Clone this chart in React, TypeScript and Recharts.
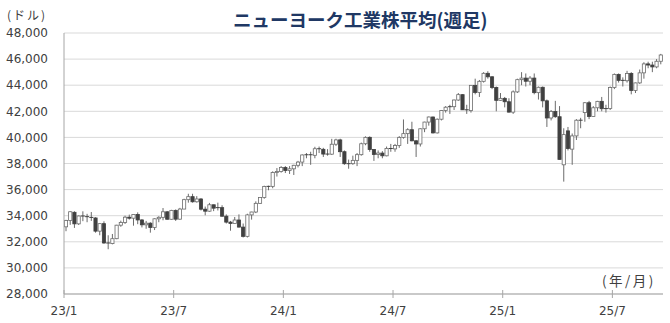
import React from "react";
import { ComposedChart, Bar, XAxis, YAxis, CartesianGrid } from "recharts";

// weekly candles, Jan 2023 - Sep 2025
const opens = [
  33148, 33631, 34260, 33375, 33978, 33926, 33869, 33827, 32817, 33391,
  31910, 31862, 32238, 33274, 33485, 33886, 33809, 34098, 33674, 33301,
  33427, 33093, 33762, 33877, 34299, 33727, 34408, 33734, 34509, 35228,
  35459, 35066, 35281, 34500, 34346, 34838, 34577, 34618, 33964, 33508,
  33408, 33670, 33127, 32418, 34061, 34283, 34947, 35390, 36245, 36248,
  37306, 37385,
  37690, 37466, 37593, 37863, 38109, 38654, 38671, 38628, 39131, 39087,
  38723, 38715, 39476, 39807, 38904, 37983, 37986, 38240, 38676, 39513,
  40004, 39070, 38686, 38799, 38589, 39150, 39119, 39376, 40001, 40288,
  40590, 39737, 39497, 40660, 41175, 41563, 40345, 41394, 42063, 42313,
  42353, 42864, 43276, 42114, 42052, 43989, 43445, 44297, 44911, 44643,
  43828, 42840,
  42992, 42732, 41938, 43488, 44424, 44545, 44303, 44546, 43428, 43841,
  42802, 41488, 41985, 41584, 37900, 40500, 39100, 40114, 41317, 41900,
  42655, 41603, 42270, 42763, 42198, 42207, 43819, 44829, 44371, 44342,
  44902, 43589, 44176, 44946, 45632, 45545, 45401, 45834,
];

const highs = [
  33685, 34343, 34340, 34016, 34335, 34143, 34281, 33880, 33420, 33572,
  32500, 32600, 33300, 33620, 34000, 34083, 34104, 34257, 33740, 33600,
  33500, 33800, 33960, 34588, 34340, 34450, 34480, 34600, 35300, 35680,
  35680, 35500, 35350, 34700, 34980, 34850, 35000, 34800, 34100, 33600,
  33900, 34100, 33400, 34150, 34300, 35100, 35400, 36300, 36300, 37400,
  37650, 37800,
  37800, 37800, 37900, 38200, 38700, 38800, 38900, 39280, 39300, 39200,
  39100, 39890, 39900, 39900, 39000, 38300, 38600, 38800, 39600, 40080,
  40080, 39100, 39000, 38950, 39300, 39500, 39500, 40100, 41376, 40700,
  41200, 39800, 40700, 41200, 41600, 41600, 41450, 42100, 42400, 42500,
  42900, 43400, 43300, 42500, 44000, 44500, 44400, 45000, 45070, 44700,
  43900, 43400,
  43100, 43000, 43600, 44500, 45000, 44900, 44700, 44900, 43900, 43900,
  42900, 42100, 42800, 42400, 40700, 40800, 40300, 41400, 41500, 42700,
  42800, 42400, 42800, 43100, 42500, 43900, 44900, 44900, 44600, 45100,
  45000, 44200, 45200, 45760, 45800, 45800, 46000, 46400,
];

const lows = [
  32812, 33300, 33064, 33290, 33580, 33500, 33600, 32700, 32500, 31847,
  31430, 31805, 32200, 33150, 33370, 33700, 33235, 33350, 33100, 33000,
  32700, 32900, 33500, 33650, 33700, 33700, 33600, 33700, 34500, 35000,
  35000, 35000, 34400, 34030, 34300, 34350, 34400, 33900, 33400, 32850,
  33400, 33100, 32330, 32330, 33700, 34200, 34900, 35300, 35950, 36100,
  37000, 37300,
  37270, 37200, 37120, 37700, 37800, 38400, 37900, 38400, 38800, 38500,
  38600, 38650, 39350, 38500, 37900, 37600, 37900, 37800, 38600, 39400,
  38900, 38200, 38400, 38400, 38550, 38900, 38900, 39200, 39900, 39500,
  39700, 38500, 39300, 40400, 40900, 40300, 40300, 41300, 41900, 41800,
  42100, 42800, 42100, 41800, 41900, 43300, 43100, 44200, 44500, 43700,
  42000, 42800,
  42300, 41900, 41800, 43400, 44000, 43900, 44000, 43300, 42900, 42300,
  40800, 41300, 41500, 38300, 36611, 39000, 37900, 39800, 40700, 41200,
  41400, 41600, 42000, 42000, 41900, 42100, 43700, 44200, 43900, 44200,
  43300, 43400, 44100, 44500, 45300, 45000, 45300, 45600,
];

const closes = [
  33631, 34303, 33375, 33978, 33926, 33869, 33827, 32817, 33391, 31910,
  31862, 32238, 33274, 33485, 33886, 33809, 34098, 33674, 33301, 33427,
  33093, 33762, 33877, 34299, 33727, 34408, 33734, 34509, 35228, 35459,
  35066, 35281, 34500, 34346, 34838, 34577, 34618, 33964, 33508, 33408,
  33670, 33127, 32418, 34061, 34283, 34947, 35390, 36245, 36248, 37306,
  37385, 37690,
  37466, 37593, 37863, 38109, 38654, 38671, 38628, 39131, 39087, 38723,
  38715, 39476, 39807, 38904, 37983, 37986, 38240, 38676, 39513, 40004,
  39070, 38686, 38799, 38589, 39150, 39119, 39376, 40001, 40288, 40590,
  39737, 39497, 40660, 41175, 41563, 40345, 41394, 42063, 42313, 42353,
  42864, 43276, 42114, 42052, 43989, 43445, 44297, 44911, 44643, 43828,
  42840, 42992,
  42732, 41938, 43488, 44424, 44545, 44303, 44546, 43428, 43841, 42802,
  41488, 41985, 41584, 38315, 40213, 39142, 40114, 41317, 41249, 42655,
  41603, 42270, 42763, 42198, 42207, 43819, 44829, 44371, 44342, 44902,
  43589, 44176, 44946, 45632, 45545, 45401, 45834, 46315,
];

// first week of each half year carries a tick
const tickWeeks = [0, 26, 52, 78, 104, 130];
const tickLabels = ["23/1", "23/7", "24/1", "24/7", "25/1", "25/7"];
const yTicks = [28000, 30000, 32000, 34000, 36000, 38000, 40000, 42000, 44000, 46000, 48000];

const data = opens.map((open, i) => ({
  week: i,
  open,
  high: highs[i],
  low: lows[i],
  close: closes[i],
}));

const axisGray = "#a6a6a6";
const labelFont = "'DejaVu Sans', sans-serif";
const jpFont = "'Noto Sans CJK JP', sans-serif";

const Candle = (props: any) => {
  const { x, y, width, height, payload } = props;
  if (x == null || !payload) return null;
  const top = Math.min(y, y + height);
  const h = Math.abs(height);
  const { open, close, high, low } = payload;
  const span = high - low || 1;
  const toY = (v: number) => top + ((high - v) / span) * h;
  const cx = x + width / 2;
  const up = close >= open;
  const bTop = toY(Math.max(open, close));
  const bBot = toY(Math.min(open, close));
  const bw = 3.2;
  return (
    <g>
      <line x1={cx} x2={cx} y1={top} y2={top + h} stroke="#6b6b6b" strokeWidth={1} />
      {bBot - bTop < 1 ? (
        <line x1={cx - 2} x2={cx + 2} y1={bTop} y2={bTop} stroke="#404040" strokeWidth={1} />
      ) : (
        <rect
          x={cx - bw / 2}
          y={bTop}
          width={bw}
          height={bBot - bTop}
          fill={up ? "#ffffff" : "#404040"}
          stroke={up ? "#6b6b6b" : "#404040"}
          strokeWidth={0.8}
        />
      )}
    </g>
  );
};

const XTick = (props: any) => {
  const { x, y, payload } = props;
  const i = tickWeeks.indexOf(payload.value);
  if (i < 0) return null;
  const tx = x - (payload.offset ?? 2.1);
  return (
    <g>
      <line x1={tx} x2={tx} y1={y - 4} y2={y + 4} stroke={axisGray} />
      <text x={tx} y={y + 21} textAnchor="middle" fill="#404040" fontSize={12} fontFamily={labelFont}>
        {tickLabels[i]}
      </text>
    </g>
  );
};

export default function App() {
  return (
    <div style={{ position: "absolute", left: 0, top: 0, width: 670, height: 323, background: "#fff" }}>
      <ComposedChart
        width={670}
        height={323}
        data={data}
        margin={{ top: 33, right: 7, bottom: 0, left: 0 }}
        barCategoryGap={0}
      >
        <CartesianGrid vertical={false} stroke="#d9d9d9" />
        <XAxis
          dataKey="week"
          type="category"
          height={29}
          interval={0}
          axisLine={{ stroke: axisGray }}
          tickLine={false}
          tickSize={0}
          tickMargin={0}
          tick={<XTick />}
        />
        <YAxis
          type="number"
          domain={[28000, 48000]}
          ticks={yTicks}
          interval={0}
          width={64}
          axisLine={{ stroke: axisGray }}
          tickLine={false}
          tickSize={0}
          tickMargin={16}
          tickFormatter={(v: number) => v.toLocaleString("en-US")}
          tick={{ fill: "#404040", fontSize: 12, fontFamily: labelFont }}
        />
        <Bar dataKey={(d: any) => [d.low, d.high]} shape={<Candle />} isAnimationActive={false} />
      </ComposedChart>
      <div
        style={{
          position: "absolute",
          left: 233,
          top: 8,
          fontFamily: jpFont,
          fontWeight: 700,
          fontSize: 18.5,
          lineHeight: "22px",
          color: "#203864",
          whiteSpace: "nowrap",
        }}
      >
        ニューヨーク工業株平均(週足)
      </div>
      <div
        style={{
          position: "absolute",
          left: 7,
          top: 9,
          fontFamily: jpFont,
          fontSize: 12,
          lineHeight: "12px",
          letterSpacing: 2,
          color: "#404040",
          whiteSpace: "nowrap",
        }}
      >
        (ドル)
      </div>
      <div
        style={{
          position: "absolute",
          left: 602,
          top: 271,
          fontFamily: jpFont,
          fontSize: 13.5,
          lineHeight: "18px",
          letterSpacing: 2.5,
          color: "#404040",
          whiteSpace: "nowrap",
        }}
      >
        (年/月)
      </div>
    </div>
  );
}
